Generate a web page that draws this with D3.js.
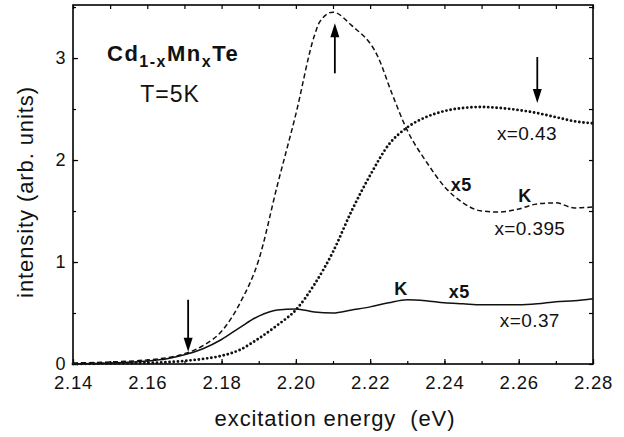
<!DOCTYPE html>
<html>
<head>
<meta charset="utf-8">
<script src="https://cdn.jsdelivr.net/npm/d3@7"></script>
<style>
  body { margin: 0; background: #fff; }
  svg { font-family: "Liberation Sans", Arial, sans-serif; }
</style>
</head>
<body>
<script>
// data: excitation energy (eV) vs intensity (arb. units)
const energy395 = [2.14, 2.15, 2.16, 2.165, 2.17, 2.175, 2.18, 2.185, 2.19, 2.195, 2.20, 2.205, 2.2065, 2.21, 2.215, 2.222, 2.226, 2.23, 2.235, 2.24, 2.245, 2.25, 2.255, 2.26, 2.265, 2.27, 2.275, 2.28];
const intens395 = [0.01, 0.02, 0.04, 0.06, 0.10, 0.18, 0.32, 0.60, 1.02, 1.75, 2.45, 3.22, 3.36, 3.45, 3.32, 3.02, 2.64, 2.29, 1.99, 1.74, 1.58, 1.50, 1.49, 1.52, 1.57, 1.58, 1.53, 1.54];

const energy43 = [2.14, 2.15, 2.16, 2.17, 2.175, 2.18, 2.185, 2.19, 2.195, 2.20, 2.205, 2.21, 2.215, 2.22, 2.225, 2.23, 2.235, 2.24, 2.245, 2.25, 2.255, 2.26, 2.265, 2.27, 2.275, 2.28];
const intens43 = [0.0, 0.005, 0.01, 0.03, 0.05, 0.08, 0.14, 0.25, 0.38, 0.53, 0.78, 1.10, 1.50, 1.85, 2.15, 2.32, 2.42, 2.48, 2.51, 2.52, 2.51, 2.49, 2.46, 2.42, 2.38, 2.36];

const energy37 = [2.14, 2.15, 2.16, 2.165, 2.17, 2.175, 2.18, 2.185, 2.19, 2.195, 2.20, 2.205, 2.21, 2.215, 2.22, 2.225, 2.23, 2.235, 2.24, 2.245, 2.25, 2.255, 2.26, 2.265, 2.27, 2.275, 2.28];
const intens37 = [0.0, 0.01, 0.03, 0.05, 0.09, 0.15, 0.24, 0.36, 0.47, 0.53, 0.54, 0.51, 0.50, 0.53, 0.56, 0.60, 0.63, 0.62, 0.60, 0.59, 0.58, 0.58, 0.58, 0.59, 0.61, 0.62, 0.64];

const xTicks = [2.14, 2.16, 2.18, 2.20, 2.22, 2.24, 2.26, 2.28];
const yTicks = [0, 1, 2, 3];

// arrows: energy, start intensity, end intensity
const arrowE = [2.171, 2.2105, 2.265];
const arrowFrom = [0.63, 2.85, 3.01];
const arrowTo = [0.12, 3.34, 2.56];

// annotations in data coordinates (centre energy, baseline intensity)
const noteText = ['x=0.43', 'x5', 'K', 'x=0.395', 'K', 'x5', 'x=0.37'];
const noteE = [2.2622, 2.2445, 2.2617, 2.2630, 2.2283, 2.2440, 2.2630];
const noteI = [2.196, 1.70, 1.59, 1.265, 0.676, 0.647, 0.363];
const noteBold = [false, true, true, false, true, true, false];

const width = 624, height = 437;
const margin = {left: 73, right: 31, top: 5, bottom: 73};

const svg = d3.select('body').append('svg')
  .attr('width', width)
  .attr('height', height);

const x = d3.scaleLinear().domain([2.14, 2.28]).range([margin.left, width - margin.right]);
const y = d3.scaleLinear().domain([0, 3.52]).range([height - margin.bottom, margin.top]);

const minorX = d3.range(2.14, 2.2801, 0.01);
const minorY = d3.range(0, 3.51, 0.5);

// ticks inside on all four sides
let axisBottom = d3.axisBottom(x).tickValues(xTicks).tickFormat(d3.format('.2f')).tickSizeInner(-5).tickSizeOuter(0).tickPadding(12);
let axisLeft = d3.axisLeft(y).tickValues(yTicks).tickFormat(d3.format('d')).tickSizeInner(-5).tickSizeOuter(0).tickPadding(7);

let gx = svg.append('g').attr('transform', `translate(0,${y(0)})`).call(axisBottom);
let gy = svg.append('g').attr('transform', `translate(${x(2.14)},0)`).call(axisLeft);
svg.append('g').attr('transform', `translate(0,${y(0)})`)
  .call(d3.axisBottom(x).tickValues(minorX).tickFormat('').tickSizeInner(-3).tickSizeOuter(0));
svg.append('g').attr('transform', `translate(${x(2.14)},0)`)
  .call(d3.axisLeft(y).tickValues(minorY).tickFormat('').tickSizeInner(-3).tickSizeOuter(0));
svg.append('g').attr('transform', `translate(0,${y(3.52)})`)
  .call(d3.axisTop(x).tickValues(minorX).tickFormat('').tickSizeInner(-4).tickSizeOuter(0));
svg.append('g').attr('transform', `translate(${x(2.28)},0)`)
  .call(d3.axisRight(y).tickValues(minorY).tickFormat('').tickSizeInner(-4).tickSizeOuter(0));

svg.selectAll('.domain').remove();
svg.selectAll('.tick line').attr('stroke', '#000').attr('stroke-width', 1.2);
gx.selectAll('.tick text').attr('font-size', 18.5).attr('letter-spacing', 0.8).attr('fill', '#111');
gy.selectAll('.tick text').attr('font-size', 18).attr('letter-spacing', 0.6).attr('fill', '#111');

// frame
svg.append('rect')
  .attr('x', x(2.14)).attr('y', y(3.52))
  .attr('width', x(2.28) - x(2.14)).attr('height', y(0) - y(3.52))
  .attr('fill', 'none').attr('stroke', '#000').attr('stroke-width', 1.6);

let line = d3.line().x(d => x(d[0])).y(d => y(d[1])).curve(d3.curveMonotoneX);

svg.append('path')
  .datum(d3.zip(energy395, intens395))
  .attr('d', line)
  .attr('fill', 'none').attr('stroke', '#111').attr('stroke-width', 1.5)
  .attr('stroke-dasharray', '5,3');

svg.append('path')
  .datum(d3.zip(energy43, intens43))
  .attr('d', line)
  .attr('fill', 'none').attr('stroke', '#111').attr('stroke-width', 2.9)
  .attr('stroke-linecap', 'round')
  .attr('stroke-dasharray', '0,4.2');

svg.append('path')
  .datum(d3.zip(energy37, intens37))
  .attr('d', line)
  .attr('fill', 'none').attr('stroke', '#111').attr('stroke-width', 1.5);

// arrows
arrowE.forEach((e, i) => {
  let ax = x(e), y0 = y(arrowFrom[i]), y1 = y(arrowTo[i]);
  let dir = y1 > y0 ? 1 : -1;
  svg.append('line')
    .attr('x1', ax).attr('x2', ax)
    .attr('y1', y0).attr('y2', y1 - dir * 10)
    .attr('stroke', '#000').attr('stroke-width', 1.8);
  svg.append('path')
    .attr('d', `M${ax},${y1} L${ax - 4.5},${y1 - dir * 14} L${ax + 4.5},${y1 - dir * 14} Z`)
    .attr('fill', '#000');
});

// annotations
svg.selectAll('.note')
  .data(noteText)
  .enter()
  .append('text')
  .attr('class', 'note')
  .attr('x', (d, i) => x(noteE[i]))
  .attr('y', (d, i) => y(noteI[i]))
  .attr('text-anchor', 'middle')
  .attr('font-size', (d, i) => noteBold[i] ? 18 : 19)
  .attr('letter-spacing', 0.4)
  .attr('font-weight', (d, i) => noteBold[i] ? 'bold' : 'normal')
  .attr('fill', '#111')
  .text(d => d);

// compound label
let title = svg.append('text')
  .attr('x', 107).attr('y', 61)
  .attr('font-size', 22).attr('font-weight', 'bold').attr('letter-spacing', 1.5)
  .attr('fill', '#111');
title.append('tspan').text('Cd');
title.append('tspan').attr('dy', 6).attr('font-size', 16).text('1-x');
title.append('tspan').attr('dy', -6).text('Mn');
title.append('tspan').attr('dy', 6).attr('font-size', 16).text('x');
title.append('tspan').attr('dy', -6).text('Te');

svg.append('text')
  .attr('x', 170).attr('y', 102)
  .attr('text-anchor', 'middle')
  .attr('font-size', 23).attr('letter-spacing', 1).attr('fill', '#111')
  .text('T=5K');

// axis titles
svg.append('text')
  .attr('x', 335).attr('y', 426)
  .attr('text-anchor', 'middle')
  .attr('font-size', 22).attr('letter-spacing', 0.9).attr('fill', '#111')
  .attr('xml:space', 'preserve')
  .text('excitation energy  (eV)');

svg.append('text')
  .attr('transform', 'translate(33,192) rotate(-90)')
  .attr('text-anchor', 'middle')
  .attr('font-size', 22).attr('letter-spacing', 0.9).attr('fill', '#111')
  .text('intensity (arb. units)');
</script>
</body>
</html>
